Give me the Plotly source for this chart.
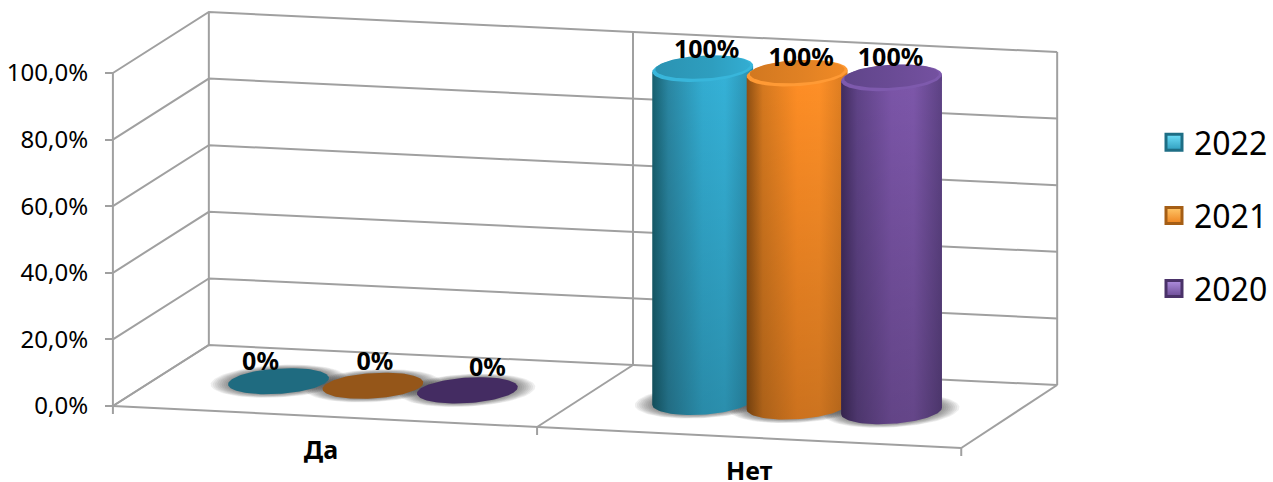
import numpy as np
import plotly.graph_objects as go

# --- data ---
CATEGORIES = ["Да", "Нет"]
YEARS = ["2022", "2021", "2020"]
VALUES_2022 = [0, 100]
VALUES_2021 = [0, 100]
VALUES_2020 = [0, 100]
Y_TICKS = [0, 20, 40, 60, 80, 100]
Y_TICK_LABELS = ["0,0%", "20,0%", "40,0%", "60,0%", "80,0%", "100,0%"]

SERIES = [VALUES_2022, VALUES_2021, VALUES_2020]

# --- oblique projection of (category u, depth v, value z) onto the axes ---
W, H = 1273, 482
X0, Y0_PX, Y100_PX = 113, 406, 73
PX_PER_UNIT = (Y0_PX - Y100_PX) / 100
WX, WY = 424.5, 21.0   # one category along the floor
DX, DY = 96.0, 61.0    # full depth of the floor
TAPER = 1.0            # slight perspective of the back wall


def project(u, v, z):
    u, v = np.asarray(u, float), np.asarray(v, float)
    x = X0 + WX * u + DX * v
    y = np.asarray(z, float) + (-WY * u + DY * v + TAPER * u * v) / PX_PER_UNIT
    return x, y


def circle(u, z, ru, rv, t):
    return project(u + ru * np.cos(t), 0.5 + rv * np.sin(t), z)


# --- style ---
GRID = "#A0A0A0"
FONT = "Noto Sans"
BODY = {
    "2022": [[0, "#17606F"], [0.16, "#2A87A3"], [0.5, "#33ADD2"], [0.72, "#35B2D8"], [1, "#2A8FAE"]],
    "2021": [[0, "#8E4F12"], [0.16, "#D6791F"], [0.5, "#FF8E25"], [0.72, "#FF9027"], [1, "#D77A20"]],
    "2020": [[0, "#412C5F"], [0.16, "#5F4387"], [0.5, "#7B55A8"], [0.72, "#7D57AA"], [1, "#5D4284"]],
}
TOP_RIM = {"2022": "#38B6DB", "2021": "#FF9A35", "2020": "#7E5AAD"}
TOP_IN = {
    "2022": [[0, "#2B93B2"], [0.6, "#2E9EBF"], [1, "#33ADD2"]],
    "2021": [[0, "#D27820"], [0.6, "#E28224"], [1, "#F08A25"]],
    "2020": [[0, "#60458A"], [0.6, "#6C4C97"], [1, "#7451A0"]],
}
DISC_ZERO = {"2022": "#1F6B80", "2021": "#955619", "2020": "#442C62"}
LEG_MID = {"2022": "#2F9DBD", "2021": "#EE8420", "2020": "#6C4C96"}
LEG_LIGHT = {"2022": "#6FE0FA", "2021": "#FFC86A", "2020": "#B08FE0"}
LEG_DARK = {"2022": "#1E6E85", "2021": "#A55E15", "2020": "#4A3269"}
R_U, R_V = 0.109, 0.21
SPACING = 0.2226
# label offsets in pixels: right, down
LABEL_NUDGE = [
    [(-18, -17), (2, -22), (20, -21)],
    [(4, -17), (4, -14), (-1, -18)],
]
CATEGORY_NUDGE = [(-4, 36), (0, 36)]

fig = go.Figure()


def poly(x, y, **kw):
    fig.add_trace(go.Scatter(x=x, y=y, mode="lines", fill="toself", line=dict(width=0),
                             showlegend=False, hoverinfo="skip", **kw))


# --- walls and floor ---
gx, gy = [], []


def seg(*pts):
    xs, ys = project(*zip(*pts))
    gx.extend(list(xs) + [None])
    gy.extend(list(ys) + [None])


n_cat = len(CATEGORIES)
for tick in Y_TICKS:
    seg((0, 0, tick), (0, 1, tick), (n_cat, 1, tick))
for u in range(n_cat + 1):
    seg((u, 1, Y_TICKS[0]), (u, 1, Y_TICKS[-1]))
    xs, ys = project([u, u], [0, 0], [0, -8 / PX_PER_UNIT])
    gx.extend(list(xs) + [None])
    gy.extend(list(ys) + [None])
    seg((u, 0, 0), (u, 1, 0))
seg((0, 0, 0), (n_cat, 0, 0))
seg((0, 0, 0), (0, 0, Y_TICKS[-1]))
fig.add_trace(go.Scatter(x=gx, y=gy, mode="lines", line=dict(color=GRID, width=2),
                         showlegend=False, hoverinfo="skip"))

ang = np.linspace(0, 2 * np.pi, 121)
t0 = np.arctan2(DX * R_V, WX * R_U)
half = t0 - np.linspace(0, np.pi, 61)

# --- shadows ---
for c in range(n_cat):
    for i in range(len(YEARS)):
        u = c + 0.5 + (i - 1) * SPACING
        for s in np.linspace(1.36, 1.0, 9):
            x, y = circle(u, 0, R_U * s, R_V * (1 + (s - 1) * 0.75), ang)
            poly(x, y, fillcolor="rgba(40,40,40,0.075)")

# --- cylinders ---
for c in range(n_cat):
    for i, year in enumerate(YEARS):
        u = c + 0.5 + (i - 1) * SPACING
        val = SERIES[i][c]
        if val == 0:
            x, y = circle(u, 0, R_U, R_V, ang)
            poly(x, y, fillcolor=DISC_ZERO[year])
            continue
        bx, by = circle(u, 0, R_U, R_V, half)
        tx, ty = circle(u, val, R_U, R_V, half[::-1])
        px = np.concatenate([bx, tx[[0, -1]], bx[:1]])
        py = np.concatenate([by, ty[[0, -1]], by[:1]])
        poly(px, py, fillgradient=dict(type="horizontal", colorscale=BODY[year]))
        poly(px, py, fillgradient=dict(type="vertical",
                                       colorscale=[[0, "rgba(0,0,0,0.2)"], [1, "rgba(0,0,0,0)"]]))
        x, y = circle(u, val, R_U, R_V, ang)
        poly(x, y, fillcolor=TOP_RIM[year])
        x, y = circle(u, val + 1.6 / PX_PER_UNIT, R_U * 0.95, R_V * 0.88, ang)
        poly(x, y, fillgradient=dict(type="horizontal", colorscale=TOP_IN[year]))

# --- data labels ---
for c in range(n_cat):
    for i in range(len(YEARS)):
        val = SERIES[i][c]
        u = c + 0.5 + (i - 1) * SPACING
        nx, ny = LABEL_NUDGE[c][i]
        x, y = project(u, 0.5, val)
        fig.add_trace(go.Scatter(x=[x + nx], y=[y - ny / PX_PER_UNIT], mode="text",
                                 text=[f"{val}%"], textposition="middle center",
                                 textfont=dict(family=FONT, size=25, color="black", weight="bold"),
                                 showlegend=False, hoverinfo="skip"))

# --- category labels ---
x, y = project(np.arange(n_cat) + 0.5, 0, 0)
fig.add_trace(go.Scatter(x=x + np.array([n[0] for n in CATEGORY_NUDGE]),
                         y=y - np.array([n[1] for n in CATEGORY_NUDGE]) / PX_PER_UNIT,
                         mode="text", text=CATEGORIES, textposition="middle center",
                         textfont=dict(family=FONT, size=25, color="black", weight="bold"),
                         showlegend=False, hoverinfo="skip"))

# --- legend ---
for i, year in enumerate(YEARS):
    fig.add_trace(go.Scatter(x=[None], y=[None], mode="markers", name=year, legendgroup=year,
                             marker=dict(symbol="square", size=16, color=LEG_LIGHT[year],
                                         gradient=dict(type="vertical", color=LEG_MID[year]),
                                         line=dict(color=LEG_DARK[year], width=3))))

fig.update_layout(
    width=W, height=H, margin=dict(l=0, r=0, t=0, b=0),
    paper_bgcolor="white", plot_bgcolor="white",
    font=dict(family=FONT, color="black"),
    xaxis=dict(range=[0, W], visible=False, domain=[0, 1]),
    yaxis=dict(range=[-(H - Y0_PX) / PX_PER_UNIT, Y0_PX / PX_PER_UNIT], anchor="free", position=X0 / W,
               tickmode="array", tickvals=Y_TICKS, ticktext=Y_TICK_LABELS,
               ticks="outside", ticklen=8, tickwidth=2, tickcolor=GRID,
               showgrid=False, zeroline=False, showline=False,
               tickfont=dict(family=FONT, size=24, color="black"), ticklabelstandoff=12),
    legend=dict(x=1155 / W, xanchor="left", y=1 - 115 / H, yanchor="top", font=dict(size=32, family=FONT),
                entrywidth=68, entrywidthmode="pixels",
                tracegroupgap=28.5, bgcolor="rgba(0,0,0,0)"),
    showlegend=True,
)
fig.write_html("out.html", config={"displayModeBar": False},
               post_script="document.body.style.margin='0';document.documentElement.style.overflow='hidden';")
